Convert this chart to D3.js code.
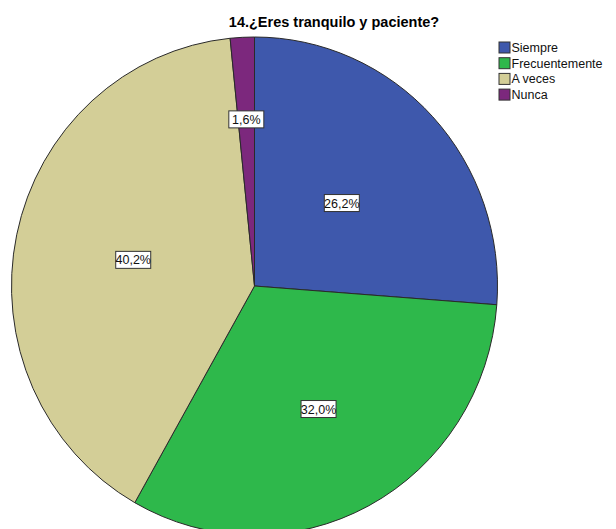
<!DOCTYPE html>
<html><head><meta charset="utf-8">
<script src="https://cdn.jsdelivr.net/npm/d3@7"></script>
<style>body{margin:0;background:#fff;}svg{display:block;}</style>
</head><body>
<script>
const categories = ["Siempre", "Frecuentemente", "A veces", "Nunca"];
const values = [26.2, 32.0, 40.2, 1.6];
const labels = ["26,2%", "32,0%", "40,2%", "1,6%"];
const colors = ["#3E58AC", "#2EB84B", "#D3CE97", "#7C287D"];
const title = "14.¿Eres tranquilo y paciente?";

const W = 616, H = 529;
const cx = 254.5, cy = 286, RX = 243, RY = 249;
const labelFrac = [0.49, 0.56, 0.51, 0.67];

const svg = d3.select("body").append("svg").attr("width", W).attr("height", H);

svg.append("text").attr("x", 334).attr("y", 27).attr("text-anchor", "middle")
  .attr("font-family", "Liberation Sans, Arial, sans-serif").attr("font-weight", "bold")
  .attr("font-size", 14.5).attr("fill", "#000").text(title);

const pie = d3.pie().sort(null).value(d => d)(values);
const arc = d3.arc().innerRadius(0).outerRadius(RX);
const g = svg.append("g").attr("transform", `translate(${cx},${cy}) scale(1,${RY / RX})`);
g.selectAll("path").data(pie).join("path")
  .attr("d", arc).attr("fill", (d, i) => colors[i])
  .attr("stroke", "#2a2a2a").attr("stroke-width", 1)
  .attr("vector-effect", "non-scaling-stroke");

const lg = svg.selectAll("g.lab").data(pie).join("g").attr("class", "lab")
  .attr("transform", (d, i) => {
    const a = (d.startAngle + d.endAngle) / 2, f = labelFrac[i];
    return `translate(${cx + RX * f * Math.sin(a)},${cy - RY * f * Math.cos(a)})`;
  });
lg.append("rect").attr("x", -17.5).attr("y", -8.5).attr("width", 35).attr("height", 17)
  .attr("fill", "#fff").attr("stroke", "#333").attr("stroke-width", 1);
lg.append("text").attr("text-anchor", "middle").attr("y", 4.5)
  .attr("font-family", "Liberation Sans, Arial, sans-serif").attr("font-size", 12.5)
  .attr("fill", "#111").text((d, i) => labels[i]);

const leg = svg.append("g").attr("transform", "translate(499,42)");
const items = leg.selectAll("g").data(categories).join("g")
  .attr("transform", (d, i) => `translate(0,${i * 15.7})`);
items.append("rect").attr("width", 11).attr("height", 11)
  .attr("fill", (d, i) => colors[i]).attr("stroke", "#333").attr("stroke-width", 1);
items.append("text").attr("x", 12.5).attr("y", 10)
  .attr("font-family", "Liberation Sans, Arial, sans-serif").attr("font-size", 12.5)
  .attr("fill", "#111").text(d => d);
</script>
</body></html>
